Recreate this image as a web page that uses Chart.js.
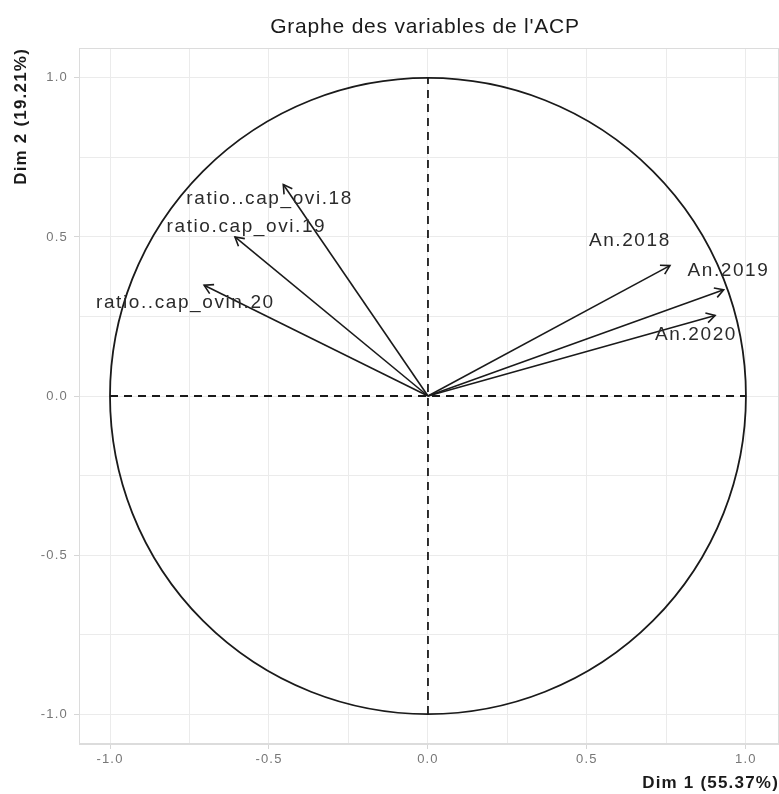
<!DOCTYPE html>
<html lang="fr">
<head>
    <meta charset="UTF-8">
    <title>Graphe des variables de l'ACP</title>
    <script src="https://cdn.jsdelivr.net/npm/chart.js"></script>
    <style>
        body {
            margin: 0;
            background: #ffffff;
        }
        #wrap {
            width: 779px;
            height: 794px;
            position: relative;
        }
    </style>
</head>
<body>
    <div id="wrap"><canvas id="chart"></canvas></div>

    <script>
        // variables de l'ACP et leurs coordonnées sur les deux premiers axes
        const variables = ['ratio..cap_ovi.18', 'ratio.cap_ovi.19', 'ratio..cap_ovin.20', 'An.2018', 'An.2019', 'An.2020'];
        const dim1 = [-0.455, -0.607, -0.704, 0.761, 0.930, 0.903];
        const dim2 = [0.665, 0.500, 0.348, 0.410, 0.334, 0.253];
        // emplacement des étiquettes (centre du texte), en unités des axes
        const labelX = [-0.498, -0.571, -0.763, 0.635, 0.945, 0.843];
        const labelY = [0.619, 0.532, 0.292, 0.487, 0.393, 0.192];
        const tickValues = [-1.0, -0.5, 0.0, 0.5, 1.0];

        const ink = '#1a1a1a';
        const font = "'Liberation Sans', Arial, sans-serif";

        const datasets = [
            { data: [{ x: -1, y: 0 }, { x: 1, y: 0 }], borderDash: [8, 6], borderWidth: 1.8 },
            { data: [{ x: 0, y: -1 }, { x: 0, y: 1 }], borderDash: [8, 6], borderWidth: 1.8 }
        ];
        variables.forEach((v, i) => {
            datasets.push({
                label: v,
                arrow: true,
                data: [{ x: 0, y: 0 }, { x: dim1[i], y: dim2[i] }],
                borderWidth: 1.6
            });
        });
        datasets.forEach(d => {
            d.showLine = true;
            d.pointRadius = 0;
            d.borderColor = ink;
            d.fill = false;
        });

        // cercle des corrélations + bordure du panneau
        const circlePlugin = {
            id: 'circle',
            beforeDraw(chart) {
                chart.ctx.letterSpacing = '1.2px';
            },
            beforeDatasetsDraw(chart) {
                const { ctx, chartArea: a, scales: { x, y } } = chart;
                ctx.save();
                ctx.strokeStyle = '#dcdcdc';
                ctx.lineWidth = 1;
                ctx.strokeRect(a.left + 0.5, a.top + 0.5, a.right - a.left - 1, a.bottom - a.top - 1);
                const cx = x.getPixelForValue(0), cy = y.getPixelForValue(0);
                const rx = x.getPixelForValue(1) - cx, ry = cy - y.getPixelForValue(1);
                ctx.beginPath();
                ctx.ellipse(cx, cy, rx, ry, 0, 0, Math.PI * 2);
                ctx.strokeStyle = ink;
                ctx.lineWidth = 1.8;
                ctx.stroke();
                ctx.restore();
            },
            afterDatasetsDraw(chart) {
                const { ctx, scales: { x, y } } = chart;
                ctx.save();
                // pointes des flèches
                chart.data.datasets.forEach((d, i) => {
                    if (!d.arrow) return;
                    const pts = chart.getDatasetMeta(i).data;
                    const x0 = pts[0].x, y0 = pts[0].y, x1 = pts[1].x, y1 = pts[1].y;
                    const ang = Math.atan2(y1 - y0, x1 - x0);
                    const len = 10, spread = Math.PI / 6;
                    ctx.beginPath();
                    ctx.moveTo(x1 - len * Math.cos(ang - spread), y1 - len * Math.sin(ang - spread));
                    ctx.lineTo(x1, y1);
                    ctx.lineTo(x1 - len * Math.cos(ang + spread), y1 - len * Math.sin(ang + spread));
                    ctx.strokeStyle = ink;
                    ctx.lineWidth = 1.6;
                    ctx.lineJoin = 'miter';
                    ctx.stroke();
                });
                // étiquettes des variables
                ctx.font = '19px ' + font;
                ctx.letterSpacing = '1.6px';
                ctx.fillStyle = '#2b2b2b';
                ctx.textAlign = 'center';
                ctx.textBaseline = 'middle';
                variables.forEach((v, i) => {
                    ctx.fillText(v, x.getPixelForValue(labelX[i]), y.getPixelForValue(labelY[i]));
                });
                // titre
                ctx.font = '21px ' + font;
                ctx.letterSpacing = '0.8px';
                ctx.fillStyle = ink;
                ctx.textBaseline = 'alphabetic';
                ctx.fillText("Graphe des variables de l'ACP", 425, 33);
                ctx.restore();
            }
        };

        const tickLabel = v => tickValues.some(t => Math.abs(t - v) < 1e-9) ? v.toFixed(1) : '';
        const gridCommon = {
            color: '#ebebeb',
            lineWidth: 1,
            tickLength: 5,
            tickColor: c => tickLabel(c.tick.value) ? '#d6d6d6' : 'rgba(0,0,0,0)'
        };

        new Chart(document.getElementById('chart'), {
            type: 'scatter',
            data: { datasets },
            options: {
                responsive: true,
                maintainAspectRatio: false,
                animation: false,
                layout: { padding: { top: 48, left: 0, right: 0, bottom: 0 } },
                plugins: {
                    legend: { display: false },
                    tooltip: { enabled: false },
                    title: { display: false }
                },
                scales: {
                    x: {
                        type: 'linear',
                        min: -1.0975,
                        max: 1.104,
                        grid: gridCommon,
                        border: { color: '#dcdcdc' },
                        ticks: {
                            stepSize: 0.25,
                            includeBounds: false,
                            autoSkip: false,
                            maxRotation: 0,
                            padding: 3,
                            color: '#777777',
                            font: { family: font, size: 13 },
                            callback: tickLabel
                        },
                        title: {
                            display: true,
                            text: 'Dim 1 (55.37%)',
                            align: 'end',
                            color: ink,
                            font: { family: font, size: 17, weight: 'bold' },
                            padding: { top: 0, bottom: 0 }
                        },
                        afterFit(s) { s.height = 50; }
                    },
                    y: {
                        type: 'linear',
                        min: -1.094,
                        max: 1.094,
                        grid: gridCommon,
                        border: { color: '#dcdcdc' },
                        ticks: {
                            stepSize: 0.25,
                            includeBounds: false,
                            autoSkip: false,
                            padding: 6,
                            color: '#777777',
                            font: { family: font, size: 13 },
                            callback: tickLabel
                        },
                        title: {
                            display: true,
                            text: 'Dim 2 (19.21%)',
                            align: 'end',
                            color: ink,
                            font: { family: font, size: 17, weight: 'bold' },
                            padding: { top: 11, bottom: 0 }
                        },
                        afterFit(s) { s.width = 79; }
                    }
                }
            },
            plugins: [circlePlugin]
        });
    </script>
</body>
</html>
